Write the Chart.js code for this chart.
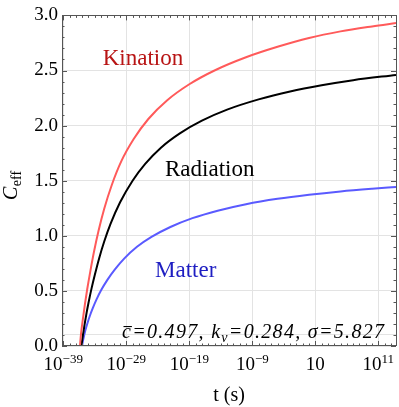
<!DOCTYPE html>
<html><head><meta charset="utf-8">
<script src="https://cdn.jsdelivr.net/npm/chart.js@4.4.1/dist/chart.umd.min.js"></script>
<style>
html,body{margin:0;padding:0;background:#fff}
#wrap{width:399px;height:407px;position:relative}
</style>
</head><body>
<div id="wrap"><canvas id="c"></canvas></div>
<script>
// axis ranges (x is log10 of t in seconds)
const xRange = [-39.2, 13.8];
const yRange = [0, 3];
const xTickExponents = [-39, -29, -19, -9, 1, 11];
const yTickValues = [0, 0.1, 0.5, 1, 1.5, 2, 2.5, 3]; // 0.1 = unlabeled grid line
const xTitle = 't (s)';
const yTitleMain = 'C';
const yTitleSub = 'eff';
const paramText = ['c', '=0.497, k', 'v', '=0.284, σ=5.827'];

// series: log10(t) and C_eff
const kinLogT = [-36.35,-36.25,-36.1,-35.85,-35.55,-35.2,-34.7,-34.1,-33.4,-32.5,-31.3,-29.8,-27.8,-25.5,-22.5,-19.0,-15.0,-10.0,-5.0,0.0,5.0,10.0,13.8];
const kinC    = [0,0.07,0.15,0.26,0.385,0.515,0.68,0.862,1.046,1.245,1.461,1.675,1.88,2.06,2.23,2.375,2.50,2.62,2.715,2.795,2.855,2.90,2.93];
const radLogT = [-36.1,-36.0,-35.85,-35.6,-35.3,-35.0,-34.5,-34.0,-33.3,-32.5,-31.5,-30.0,-28.0,-26.0,-23.5,-20.5,-17.0,-13.0,-8.0,-3.0,2.0,7.0,13.8];
const radC    = [0,0.05,0.11,0.20,0.30,0.39,0.525,0.644,0.797,0.948,1.108,1.302,1.50,1.653,1.80,1.93,2.045,2.145,2.238,2.31,2.366,2.412,2.46];
const matLogT = [-36.0,-35.9,-35.75,-35.5,-35.2,-34.8,-34.3,-33.7,-33.0,-32.0,-30.8,-29.3,-27.3,-25.0,-22.0,-18.5,-14.5,-10.0,-5.0,0.0,5.0,10.0,13.8];
const matC    = [0,0.04,0.08,0.14,0.20,0.27,0.345,0.425,0.505,0.60,0.695,0.795,0.90,0.99,1.08,1.16,1.228,1.287,1.336,1.373,1.403,1.427,1.443];

const curveLabels = [
  {text:'Kination', x:102.7, y:64.5, color:'#b81414'},
  {text:'Radiation', x:165, y:176, color:'#000000'},
  {text:'Matter', x:155, y:276.5, color:'#1e1ec2'}
];

const FAM = 'Liberation Serif';
const f = (size, italic) => (italic ? 'italic ' : '') + size + 'px "' + FAM + '"';
const toPts = (xs, ys) => xs.map((v,i)=>({x:v, y:ys[i]}));

const decor = {
  id:'decor',
  afterDraw(chart){
    const {ctx, chartArea:a, scales:{x, y}} = chart;
    ctx.save();
    // inward tick marks on all four sides
    ctx.strokeStyle = '#555'; ctx.lineWidth = 1;
    ctx.beginPath();
    for (let e = Math.ceil(xRange[0]); e <= Math.floor(xRange[1]); e++) {
      const px = Math.round(x.getPixelForValue(e)) + 0.5;
      const len = ((e + 39) % 10 === 0) ? 5 : 2.5;
      ctx.moveTo(px, a.bottom); ctx.lineTo(px, a.bottom - len);
      ctx.moveTo(px, a.top); ctx.lineTo(px, a.top + len);
    }
    for (let i = 0; i <= 30; i++) {
      const py = Math.round(y.getPixelForValue(i/10)) + 0.5;
      const len = (i % 5 === 0) ? 5 : 2.5;
      ctx.moveTo(a.left, py); ctx.lineTo(a.left + len, py);
      ctx.moveTo(a.right, py); ctx.lineTo(a.right - len, py);
    }
    ctx.stroke();
    // frame
    ctx.strokeRect(Math.round(a.left)+0.5, Math.round(a.top)+0.5,
                   Math.round(a.right)-Math.round(a.left), Math.round(a.bottom)-Math.round(a.top)-1);
    // x tick labels 10^e
    ctx.fillStyle = '#000';
    ctx.textBaseline = 'alphabetic';
    ctx.textAlign = 'left';
    xTickExponents.forEach(e => {
      const px = x.getPixelForValue(e);
      const base = '10';
      const sup = e === 1 ? '' : (e < 0 ? '\u2212' + Math.abs(e) : String(e));
      ctx.font = f(19);
      const wb = ctx.measureText(base).width;
      ctx.font = f(13);
      const ws = sup ? ctx.measureText(sup).width : 0;
      const x0 = px - (wb + ws) / 2;
      ctx.font = f(19);
      ctx.fillText(base, x0, 370);
      if (sup) { ctx.font = f(13); ctx.fillText(sup, x0 + wb, 362.5); }
    });
    // x title
    ctx.font = f(20);
    ctx.textAlign = 'center';
    ctx.fillText(xTitle, (a.left + a.right) / 2, 401);
    // y title (rotated)
    ctx.save();
    ctx.translate(17, 200);
    ctx.rotate(-Math.PI / 2);
    ctx.textAlign = 'left';
    ctx.font = f(20, true);
    ctx.fillText(yTitleMain, 0, 0);
    const wc = ctx.measureText(yTitleMain).width;
    ctx.font = f(14);
    ctx.fillText(yTitleSub, wc + 0.5, 3.5);
    ctx.restore();
    // curve labels
    ctx.textAlign = 'left';
    ctx.font = f(23);
    curveLabels.forEach(l => { ctx.fillStyle = l.color; ctx.fillText(l.text, l.x, l.y); });
    // parameter text
    ctx.fillStyle = '#000';
    const pieces = [
      {t:paramText[0], f:f(20,true), dy:0, bar:true},
      {t:paramText[1], f:f(20,true), dy:0},
      {t:paramText[2], f:f(14,true), dy:4},
      {t:paramText[3], f:f(20,true), dy:0}
    ];
    let natural = 0, nch = 0;
    pieces.forEach(p => { ctx.font = p.f; for (const ch of p.t) { natural += ctx.measureText(ch).width; nch++; } });
    const ls = (384 - 122 - natural) / (nch - 1);
    let cx = 122; const by = 338;
    pieces.forEach(p => {
      ctx.font = p.f;
      for (const ch of p.t) {
        const w = ctx.measureText(ch).width;
        ctx.fillText(ch, cx, by + p.dy);
        if (p.bar) { ctx.fillRect(cx + 1.5, by - 12, w - 0.5, 1.1); }
        cx += w + ls;
      }
    });
    ctx.restore();
  }
};

new Chart(document.getElementById('c'), {
  type: 'line',
  data: {
    datasets: [
      {label:'Kination', data: toPts(kinLogT, kinC), borderColor:'#ff5a5a'},
      {label:'Radiation', data: toPts(radLogT, radC), borderColor:'#000000'},
      {label:'Matter', data: toPts(matLogT, matC), borderColor:'#5a5aff'}
    ].map(d => Object.assign(d, {borderWidth:2, pointRadius:0, fill:false, cubicInterpolationMode:'monotone'}))
  },
  options: {
    responsive: true, maintainAspectRatio: false, animation: false,
    font: {family: '"Liberation Serif"'},
    layout: {padding: {top: 12, right: 3, left: 0, bottom: 0}},
    plugins: {legend: {display: false}, tooltip: {enabled: false}},
    scales: {
      x: {
        type: 'linear', min: xRange[0], max: xRange[1],
        afterBuildTicks: s => { s.ticks = xTickExponents.map(v => ({value: v})); },
        afterFit: s => { s.height = 61; },
        ticks: {display: false},
        grid: {color: '#e3e3e3', lineWidth: 1, drawTicks: false},
        border: {display: false}
      },
      y: {
        type: 'linear', min: yRange[0], max: yRange[1],
        afterBuildTicks: s => { s.ticks = yTickValues.map(v => ({value: v})); },
        afterFit: s => { s.width = 62; },
        ticks: {
          color: '#000', padding: 4, font: {family: '"Liberation Serif"', size: 19},
          callback: v => (Math.abs(v - 0.1) < 1e-9 ? '' : v.toFixed(1))
        },
        grid: {color: '#e3e3e3', lineWidth: 1, drawTicks: false},
        border: {display: false}
      }
    }
  },
  plugins: [decor]
});
</script>
</body></html>
